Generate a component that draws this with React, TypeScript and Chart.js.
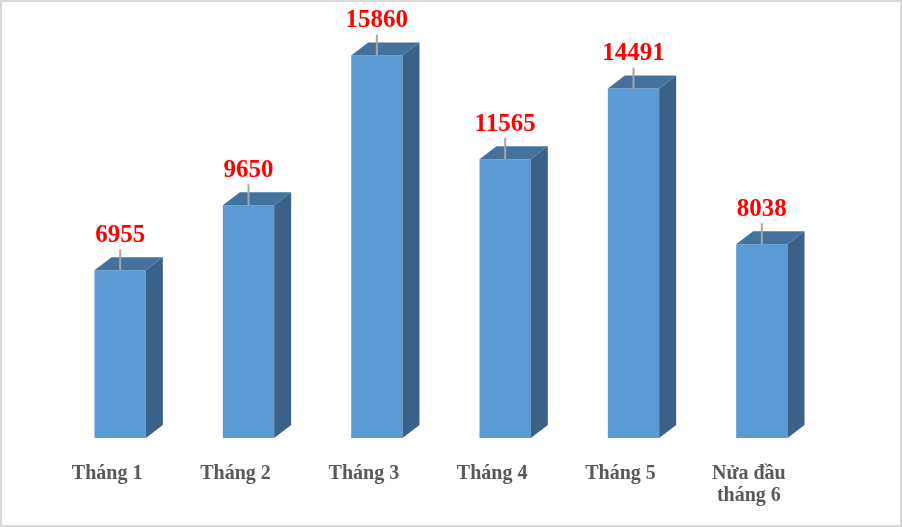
import React, { useEffect, useRef } from "react";
import { Chart, registerables } from "chart.js";

Chart.register(...registerables);

const categories: (string | string[])[] = ["Tháng 1", "Tháng 2", "Tháng 3", "Tháng 4", "Tháng 5", ["Nửa đầu", "tháng 6"]];
const values: number[] = [6955, 9650, 15860, 11565, 14491, 8038];
const valueLabels: string[] = ["6955", "9650", "15860", "11565", "14491", "8038"];

const FRONT = "#5B9BD5";
const TOP = "#44729F";
const SIDE = "#3A6289";
const DX = 17;
const DY = 13;

const bar3dPlugin = {
  id: "bar3d",
  beforeDraw(chart: any) {
    const ctx = chart.ctx;
    ctx.save();
    ctx.fillStyle = "#FFFFFF";
    ctx.fillRect(0, 0, chart.width, chart.height);
    ctx.restore();
  },
  afterDatasetsDraw(chart: any) {
    const ctx = chart.ctx;
    const meta = chart.getDatasetMeta(0);
    ctx.save();
    meta.data.forEach((bar: any, i: number) => {
      const { x, y, base, width } = bar.getProps(["x", "y", "base", "width"], true);
      const xL = x - width / 2;
      const xR = x + width / 2;
      // top face
      ctx.fillStyle = TOP;
      ctx.beginPath();
      ctx.moveTo(xL, y);
      ctx.lineTo(xR, y);
      ctx.lineTo(xR + DX, y - DY);
      ctx.lineTo(xL + DX, y - DY);
      ctx.closePath();
      ctx.fill();
      // side face
      ctx.fillStyle = SIDE;
      ctx.beginPath();
      ctx.moveTo(xR, y);
      ctx.lineTo(xR + DX, y - DY);
      ctx.lineTo(xR + DX, base - DY);
      ctx.lineTo(xR, base);
      ctx.closePath();
      ctx.fill();
      // leader line
      ctx.strokeStyle = "#A6A6A6";
      ctx.lineWidth = 2;
      ctx.beginPath();
      ctx.moveTo(x, y);
      ctx.lineTo(x, y - 21);
      ctx.stroke();
      // value label
      ctx.fillStyle = "#FF0000";
      ctx.font = "bold 25px 'Liberation Serif', 'Times New Roman', serif";
      ctx.textAlign = "center";
      ctx.textBaseline = "middle";
      ctx.fillText(valueLabels[i], x, y - 35);
    });
    ctx.restore();
  },
  afterDraw(chart: any) {
    const ctx = chart.ctx;
    ctx.save();
    ctx.strokeStyle = "#D9D9D9";
    ctx.lineWidth = 2;
    ctx.strokeRect(1, 1, chart.width - 2, chart.height - 2);
    ctx.restore();
  },
};

export default function App() {
  const ref = useRef<HTMLCanvasElement | null>(null);
  useEffect(() => {
    if (!ref.current) return;
    const chart = new Chart(ref.current, {
      type: "bar",
      data: {
        labels: categories,
        datasets: [
          {
            data: values,
            backgroundColor: FRONT,
            borderWidth: 0,
            barPercentage: 0.4,
            categoryPercentage: 1,
          },
        ],
      },
      options: {
        animation: false,
        responsive: true,
        maintainAspectRatio: false,
        layout: { padding: { left: 56, right: 76, top: 4, bottom: 0 } },
        plugins: { legend: { display: false }, tooltip: { enabled: false } },
        scales: {
          y: { display: false, min: 0, max: 18000 },
          x: {
            grid: { display: false, drawTicks: false },
            border: { display: false },
            ticks: {
              color: "#595959",
              font: { family: "'Liberation Serif', 'Times New Roman', serif", size: 20, weight: "bold", lineHeight: 1.1 },
              padding: 25,
              labelOffset: -13,
              maxRotation: 0,
              autoSkip: false,
            },
            afterFit: (scale: any) => {
              scale.height = 89;
            },
          },
        },
      },
      plugins: [bar3dPlugin],
    });
    return () => chart.destroy();
  }, []);
  return (
    <div style={{ position: "fixed", left: 0, top: 0, width: 902, height: 527 }}>
      <canvas ref={ref} />
    </div>
  );
}
